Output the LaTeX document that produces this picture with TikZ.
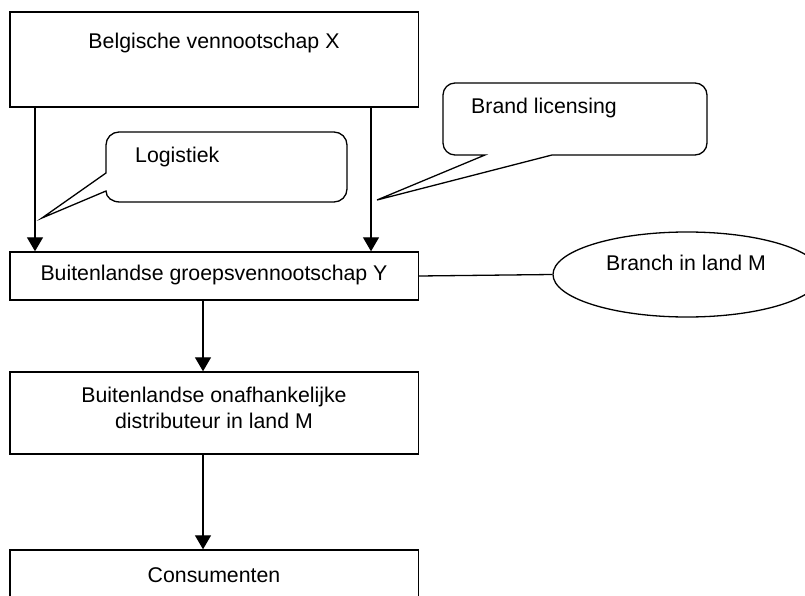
\documentclass[tikz,border=0pt]{standalone}
\usepackage{fontspec}
\setmainfont{Liberation Sans}
\usetikzlibrary{arrows.meta,shapes.geometric}

\tikzset{
  box/.style={draw, line width=1.4pt, rectangle, inner sep=0pt},
  lbl/.style={inner sep=0pt, font=\fontsize{21.3}{26}\selectfont},
  flow/.style={line width=1.3pt, -{Triangle[length=14pt,width=16pt]}},
  plain/.style={line width=1.3pt},
  bubble/.style={draw, line width=1.3pt, line join=miter},
}

\begin{document}
\begin{tikzpicture}[x=1pt, y=-1pt]
\useasboundingbox (0,0) rectangle (805,596);
\clip (0,0) rectangle (805,596);

% main chain of boxes
\node[box, minimum width=408.5pt, minimum height=95pt] (bx) at (214.25,59.5) {};
\node[lbl] at (214,43) {Belgische vennootschap X};

\node[box, minimum width=408.5pt, minimum height=48pt] (by) at (214.25,276) {};
\node[lbl] at (214,275) {Buitenlandse groepsvennootschap Y};

\node[box, minimum width=408.5pt, minimum height=82pt] (bd) at (214.25,413) {};
\node[lbl, align=center] at (214,408) {Buitenlandse onafhankelijke\\distributeur in land M};

\node[box, minimum width=408.5pt, minimum height=70pt] (bc) at (214.25,585) {};
\node[lbl] at (214,575) {Consumenten};

% branch
\node[draw, line width=1.3pt, ellipse, minimum width=268pt, minimum height=85pt, inner sep=0pt] (br) at (687,274.5) {};
\node[lbl] at (686,263) {Branch in land M};

% flows
\draw[flow] (bx.south -| 35,0) -- (by.north -| 35,0);
\draw[flow] (bx.south -| 371,0) -- (by.north -| 371,0);
\draw[flow] (by.south -| 203,0) -- (bd.north -| 203,0);
\draw[flow] (bd.south -| 203,0) -- (bc.north -| 203,0);
\draw[plain] (by.east) -- (br.west);

% callout: Logistiek
\coordinate (tipL) at (42,218);
\draw[bubble] (119,132) -- (334,132)
  .. controls (341.2,132) and (347,137.8) .. (347,145) -- (347,189)
  .. controls (347,196.2) and (341.2,202) .. (334,202) -- (120,202)
  .. controls (112.3,202) and (106,197.7) .. (106,191) -- (tipL) -- (106,173) -- (106,145)
  .. controls (106,137.8) and (111.8,132) .. (119,132) -- cycle;
\node[lbl, anchor=west] at (135,157) {Logistiek};

% callout: Brand licensing
\coordinate (tipB) at (377,200);
\draw[bubble] (455,83) -- (695,83)
  .. controls (701.6,83) and (707,88.4) .. (707,95) -- (707,143)
  .. controls (707,149.6) and (701.6,155) .. (695,155) -- (552,155) -- (tipB) -- (485,155) -- (455,155)
  .. controls (448.4,155) and (443,149.6) .. (443,143) -- (443,95)
  .. controls (443,88.4) and (448.4,83) .. (455,83) -- cycle;
\node[lbl, anchor=west] at (471,108) {Brand licensing};
\end{tikzpicture}
\end{document}
